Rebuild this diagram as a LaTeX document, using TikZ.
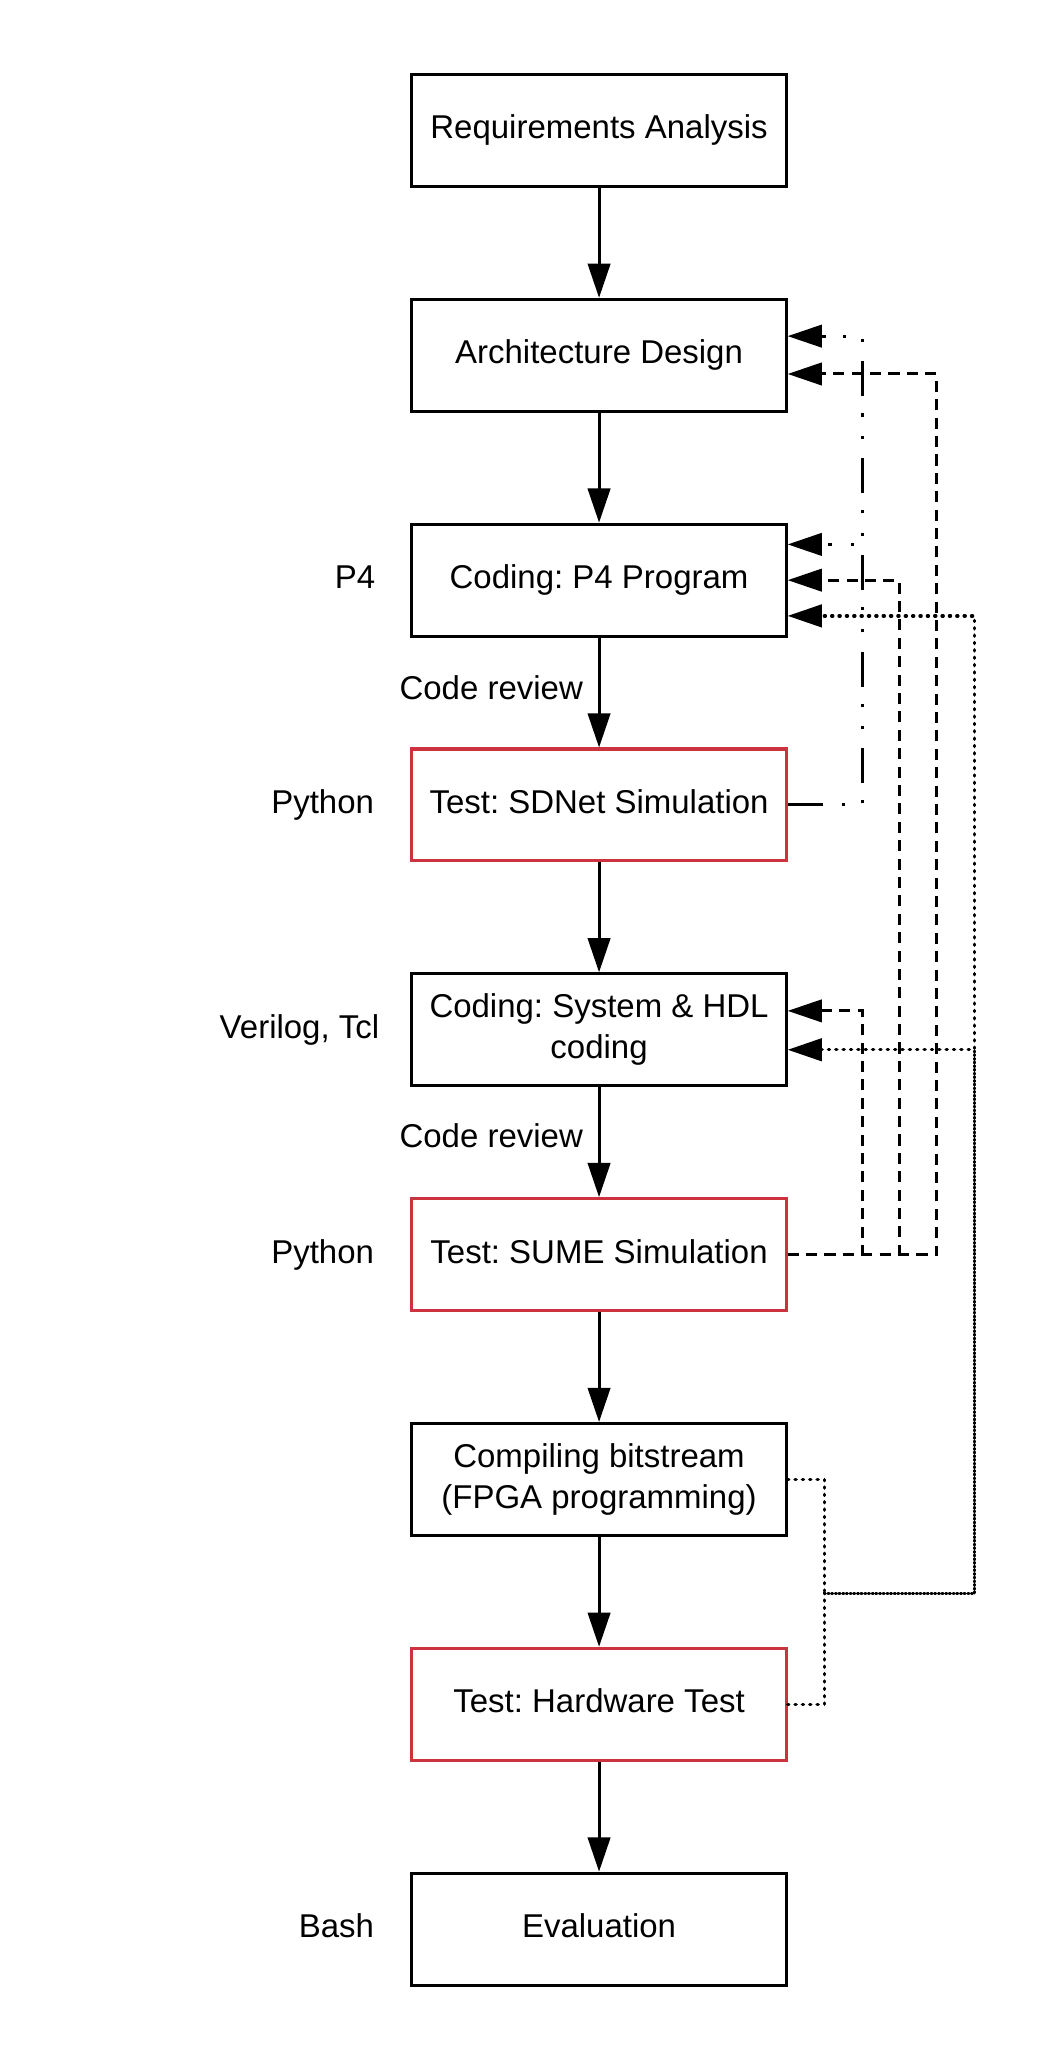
\documentclass[tikz,border=0pt]{standalone}
\usepackage{fontspec}
\setmainfont{Liberation Sans}
\usetikzlibrary{arrows.meta}
\definecolor{testred}{RGB}{204,51,63}
\newcommand{\boxFont}[0]{\fontsize{12.55}{15.5}\selectfont\frenchspacing}
\newcommand{\tipSize}[0]{length=13pt,width=8.5pt}

\begin{document}
\begin{tikzpicture}[x=0.5pt, y=-0.5pt]
  \tikzset{every node/.style={font=\boxFont},
    box/.style={draw, line width=1.15pt, minimum width=142.4pt, minimum height=42.6pt, align=center, inner sep=0pt},
    stage/.style={box, text height=9pt, text depth=2.6pt},
    test/.style={stage, draw=testred},
    lang/.style={anchor=east, inner sep=0pt, text height=9pt, text depth=2.6pt},
    flow/.style={line width=1.15pt, -{Triangle[\tipSize]}},
    back-dashdot/.style={flow, dash pattern=on 13.3pt off 7.3pt on 1.2pt off 7.3pt on 1.2pt off 6.5pt},
    back-dash/.style={flow, dash pattern=on 4.2pt off 2.8pt},
    back-dot/.style={flow, line width=1.3pt, line cap=round, dash pattern=on 0.4pt off 2.4pt}}
  \useasboundingbox (0,0) rectangle (800.6,1570);

  \node[stage] (Req) at (455.9,99.3) {Requirements Analysis};
  \node[stage] (Arch) at (455.9,270.4) {Architecture Design};
  \node[stage] (Code-1) at (455.9,441.5) {Coding: P4 Program};
  \node[test] (Test-1) at (455.9,612.6) {Test: SDNet Simulation};
  \node[box] (Code-2) at (455.9,783.7) {Coding: System \& HDL\\coding};
  \node[test] (Test-2) at (455.9,954.8) {Test: SUME Simulation};
  \node[box] (Bit) at (455.9,1125.9) {Compiling bitstream\\(FPGA programming)};
  \node[test] (Test-3) at (455.9,1297.0) {Test: Hardware Test};
  \node[stage] (Eval) at (455.9,1468.1) {Evaluation};

  \node[lang] (Lang-1) at (286,441.5) {P4};
  \node[lang] (Lang-2) at (285,612.6) {Python};
  \node[lang] (Lang-3) at (289,783.7) {Verilog, Tcl};
  \node[lang] (Lang-4) at (285,954.8) {Python};
  \node[lang] (Lang-5) at (285,1468.1) {Bash};
  \node[lang] (Review-1) at (444,526) {Code review};
  \node[lang] (Review-2) at (444,867) {Code review};

  \foreach \a/\b in {Req/Arch, Arch/Code-1, Code-1/Test-1, Test-1/Code-2, Code-2/Test-2, Test-2/Bit, Bit/Test-3, Test-3/Eval}
    \draw[flow] (\a) -- (\b);

  \coordinate (rise-1) at (656.5,0);
  \coordinate (rise-2) at (684.4,0);
  \coordinate (rise-3) at (712.9,0);
  \coordinate (rise-4) at (741.5,0);
  \coordinate (join-1) at (627.3,1212.8);

  \draw[back-dashdot] (Test-1.east) -- (Test-1.east -| rise-1) |- ([yshift=7.3pt]Arch.east);
  \draw[back-dashdot] (Test-1.east) -- (Test-1.east -| rise-1) |- ([yshift=13.6pt]Code-1.east);
  \draw[back-dash] (Test-2.east) -- (Test-2.east -| rise-1) |- ([yshift=7.2pt]Code-2.east);
  \draw[back-dash] (Test-2.east) -- (Test-2.east -| rise-2) |- (Code-1.east);
  \draw[back-dash] (Test-2.east) -- (Test-2.east -| rise-3) |- ([yshift=-7.1pt]Arch.east);
  \draw[back-dot] (Bit.east) -| (join-1) -- (join-1 -| rise-4) |- ([yshift=-13.6pt]Code-1.east);
  \draw[back-dot] (Test-3.east) -| (join-1) -- (join-1 -| rise-4) |- ([yshift=-7.6pt]Code-2.east);
\end{tikzpicture}
\end{document}
